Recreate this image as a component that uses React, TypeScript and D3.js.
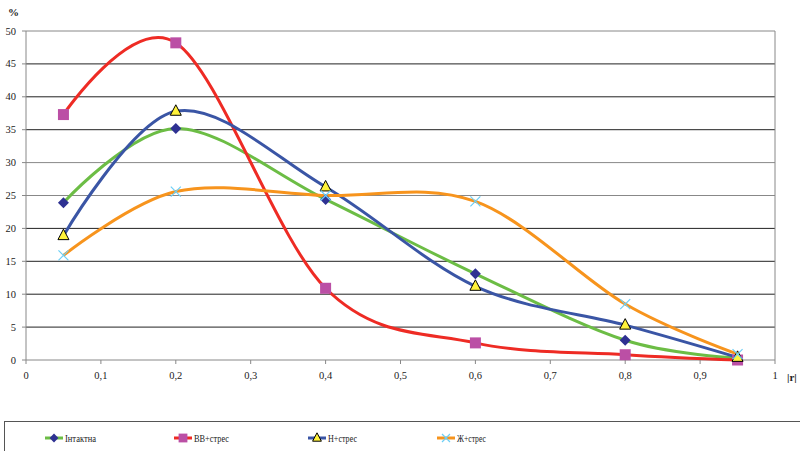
import React from "react";
import * as d3 from "d3";

const xValues = [0.05, 0.2, 0.4, 0.6, 0.8, 0.95];
const seriesNames = ["Інтактна", "ВВ+стрес", "Н+стрес", "Ж+стрес"];
const intact = [23.9, 35.2, 24.4, 13.1, 3.0, 0.3];
const vvStress = [37.3, 48.2, 10.9, 2.6, 0.8, 0.0];
const nStress = [18.9, 37.8, 26.3, 11.2, 5.3, 0.4];
const zhStress = [15.9, 25.6, 25.0, 24.1, 8.5, 0.9];
const xTicks = [0, 0.1, 0.2, 0.3, 0.4, 0.5, 0.6, 0.7, 0.8, 0.9, 1];
const yTicks = [0, 5, 10, 15, 20, 25, 30, 35, 40, 45, 50];

const W = 800, H = 451;
const left = 26, right = 775, top = 31, bottom = 360;
const FONT = "'Liberation Serif', Tinos, 'Times New Roman', Times, 'DejaVu Serif', serif";

type Style = { line: string; marker: string; fill: string; stroke: string };
const styles: Style[] = [
  { line: "#6cbd45", marker: "diamond", fill: "#2e3192", stroke: "#2e3192" },
  { line: "#ee2b24", marker: "square", fill: "#bb4fa5", stroke: "#bb4fa5" },
  { line: "#3a55a5", marker: "triangle", fill: "#fff23a", stroke: "#000" },
  { line: "#f7941d", marker: "x", fill: "none", stroke: "#6dcff6" },
];
const legendWidths = [31, 35, 29, 29];

function Marker({ kind, x, y, s, small }: { kind: string; x: number; y: number; s: Style; small?: boolean }) {
  const k = small ? 0.8 : 1;
  if (kind === "diamond") {
    const r = 5.5 * k;
    return <path d={`M${x},${y - r}L${x + r},${y}L${x},${y + r}L${x - r},${y}Z`} fill={s.fill} />;
  }
  if (kind === "square") {
    const r = 5.5 * k;
    return <rect x={x - r} y={y - r} width={2 * r} height={2 * r} fill={s.fill} />;
  }
  if (kind === "triangle") {
    return <path d={`M${x},${y - 6.5 * k}L${x + 5.5 * k},${y + 4 * k}L${x - 5.5 * k},${y + 4 * k}Z`} fill={s.fill} stroke={s.stroke} strokeWidth={1} />;
  }
  const r = 5 * k;
  return <path d={`M${x - r},${y - r}L${x + r},${y + r}M${x + r},${y - r}L${x - r},${y + r}`} stroke={s.stroke} strokeWidth={1.2} />;
}

const txt: React.CSSProperties = { fontFamily: FONT };

export default function App() {
  const x = d3.scaleLinear().domain([0, 1]).range([left, right]);
  const y = d3.scaleLinear().domain([0, 50]).range([bottom, top]);
  const data = [intact, vvStress, nStress, zhStress];
  const line = d3
    .line<number>()
    .x((_, i) => x(xValues[i]))
    .y((d) => y(d))
    .curve(d3.curveCardinal.tension(0));

  const legendX = [45, 174, 308, 437];

  return (
    <svg width={W} height={H} style={{ position: "absolute", left: 0, top: 0, background: "#fff" }}>
      {yTicks.filter((t) => t > 0).map((t) => (
        <line key={t} x1={left} x2={right} y1={y(t)} y2={y(t)} stroke={t === 50 || t === 25 || t === 30 ? "#888" : "#222"} strokeWidth={1} />
      ))}
      <line x1={right} x2={right} y1={top} y2={bottom} stroke="#888" />
      <line x1={left} x2={left} y1={top} y2={bottom} stroke="#888" />
      <line x1={left} x2={right} y1={bottom} y2={bottom} stroke="#888" />
      {yTicks.map((t) => (
        <g key={"y" + t}>
          <line x1={left - 4} x2={left} y1={y(t)} y2={y(t)} stroke="#888" />
          <text x={left - 10} y={y(t) + 3.5} textAnchor="end" fontSize={10.5} fill="#222" style={txt}>{t}</text>
        </g>
      ))}
      {xTicks.map((t) => (
        <g key={"x" + t}>
          <line x1={x(t)} x2={x(t)} y1={bottom} y2={bottom + 4} stroke="#888" />
          <text x={x(t)} y={bottom + 19} textAnchor="middle" fontSize={10.5} fill="#222" style={txt}>
            {String(t).replace(".", ",")}
          </text>
        </g>
      ))}
      <text x={8} y={16} fontSize={11} fontWeight="bold" fill="#222" style={txt}>%</text>
      <text x={787} y={381} fontSize={11} fontWeight="bold" fill="#222" style={txt}>|r|</text>

      {data.map((d, i) => (
        <path key={"l" + i} d={line(d) || ""} fill="none" stroke={styles[i].line} strokeWidth={3} />
      ))}
      {data.map((d, i) =>
        d.map((v, j) => <Marker key={`m${i}-${j}`} kind={styles[i].marker} x={x(xValues[j])} y={y(v)} s={styles[i]} />)
      )}

      <rect x={4.5} y={421.5} width={800} height={40} fill="none" stroke="#555" />
      {seriesNames.map((n, i) => (
        <g key={"lg" + i}>
          <line x1={legendX[i]} x2={legendX[i] + 18} y1={438} y2={438} stroke={styles[i].line} strokeWidth={3} />
          <Marker kind={styles[i].marker} x={legendX[i] + 9} y={438} s={styles[i]} small />
          <text x={legendX[i] + 20} y={442} fontSize={11} fill="#222" style={txt}
            textLength={legendWidths[i]} lengthAdjust="spacingAndGlyphs">{n}</text>
        </g>
      ))}
    </svg>
  );
}
